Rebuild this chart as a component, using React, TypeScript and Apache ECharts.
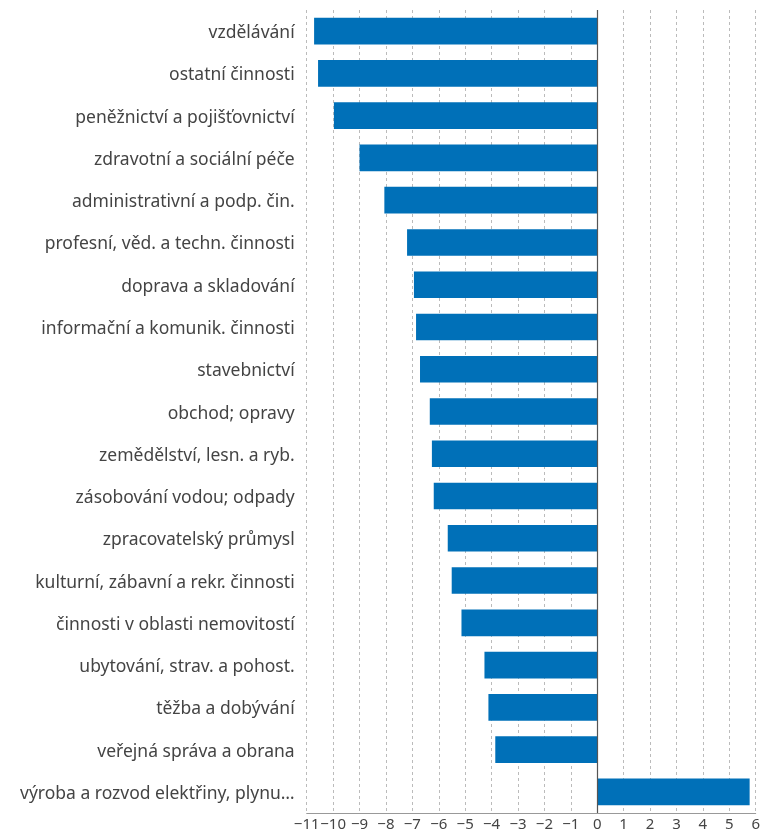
import React, { useEffect, useRef } from "react";
import * as echarts from "echarts";

const categories = [
  "vzdělávání",
  "ostatní činnosti",
  "peněžnictví a pojišťovnictví",
  "zdravotní a sociální péče",
  "administrativní a podp. čin.",
  "profesní, věd. a techn. činnosti",
  "doprava a skladování",
  "informační a komunik. činnosti",
  "stavebnictví",
  "obchod; opravy",
  "zemědělství, lesn. a ryb.",
  "zásobování vodou; odpady",
  "zpracovatelský průmysl",
  "kulturní, zábavní a rekr. činnosti",
  "činnosti v oblasti nemovitostí",
  "ubytování, strav. a pohost.",
  "těžba a dobývání",
  "veřejná správa a obrana",
  "výroba a rozvod elektřiny, plynu…",
];

const values = [
  -10.72, -10.57, -9.97, -9.0, -8.06, -7.2, -6.94, -6.86, -6.71, -6.34, -6.26,
  -6.19, -5.66, -5.51, -5.14, -4.27, -4.12, -3.86, 5.77,
];

const xMin = -11;
const xMax = 6;

export default function App() {
  const ref = useRef<HTMLDivElement>(null);
  useEffect(() => {
    if (!ref.current) return;
    const chart = echarts.init(ref.current, null, { renderer: "svg" });
    chart.setOption({
      animation: false,
      textStyle: { fontFamily: "Noto Sans" },
      grid: { left: 306.7, right: 3, top: 10, bottom: 21, containLabel: false },
      xAxis: {
        type: "value",
        min: xMin,
        max: xMax,
        interval: 1,
        axisLine: { show: true, lineStyle: { color: "#999", width: 1 } },
        axisTick: { show: false },
        axisLabel: {
          color: "#444",
          fontSize: 15,
          margin: 2,
          hideOverlap: false,
          showMinLabel: true,
          showMaxLabel: true,
          formatter: (v: number) => (v < 0 ? "\u2212" + Math.abs(v) : String(v)),
        },
        splitLine: {
          show: true,
          lineStyle: { color: "#bbb", type: [3, 3], width: 1 },
        },
      },
      yAxis: {
        type: "category",
        data: categories,
        inverse: true,
        axisLine: { show: false },
        axisTick: { show: false },
        axisLabel: { color: "#444", fontSize: 17.5, margin: 12 },
        splitLine: { show: false },
      },
      series: [
        {
          type: "bar",
          data: values,
          barWidth: "63%",
          itemStyle: { color: "#0070b8" },
          markLine: {
            silent: true,
            symbol: "none",
            label: { show: false },
            lineStyle: { color: "#555", type: "solid", width: 1.2 },
            data: [{ xAxis: 0 }],
          },
        },
      ],
    });
    return () => chart.dispose();
  }, []);
  return (
    <div
      ref={ref}
      style={{ position: "fixed", left: 0, top: 0, width: 763, height: 834 }}
    />
  );
}
